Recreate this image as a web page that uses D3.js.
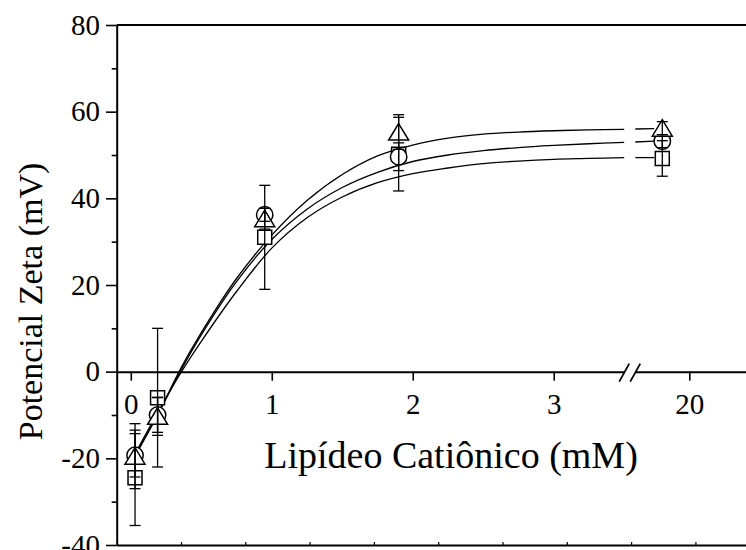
<!DOCTYPE html>
<html>
<head>
<meta charset="utf-8">
<script src="https://cdn.jsdelivr.net/npm/d3@7"></script>
<style>
  body { margin: 0; background: #fff; }
  text { font-family: "Liberation Serif", "Times New Roman", serif; fill: #000; }
</style>
</head>
<body>
<script>
// DATA
var concs = [0.03, 0.19, 0.95, 1.9, 18];

var triY   = [-19.5, -10.3, 35.3, 55.3, 56.2],
    triErr = [7.5, 4.4, 2.4, 4, 1.5];
var circY   = [-19.3, -10, 36.2, 49.6, 53.2],
    circErr = [5, 4, 1.5, 3.2, 1.5];
var sqY   = [-24.5, -6, 31, 50.2, 49.2],
    sqErr = [11, 16, 12, 8.5, 4.1];

// fitted curves
var fitX    = [0.03, 0.19, 0.35, 0.5, 0.75, 1, 1.25, 1.5, 1.75, 2, 2.25, 2.5, 2.75, 3, 3.25, 3.5];
var triFit  = [-19.5, -10, 0.5, 9, 21.5, 31.5, 39.5, 45.5, 49.8, 52.3, 53.9, 54.8, 55.3, 55.6, 55.8, 55.9];
var circFit = [-19.3, -10, 0, 8.5, 20.8, 30.5, 37.5, 42.5, 46, 48.5, 50, 51, 51.7, 52.2, 52.6, 52.9];
var sqFit   = [-19, -9.5, -0.5, 7, 18.5, 28.5, 35.5, 40.3, 43.6, 45.7, 47, 48, 48.6, 49, 49.2, 49.4];
var tailX    = [16, 17.4];
var triTail  = [56, 56.1];
var circTail = [53, 53.2];
var sqTail   = [49.4, 49.4];

var yMajor = [-40, -20, 0, 20, 40, 60, 80],
    yMinor = [-30, -10, 10, 30, 50, 70],
    xTicksLeft = [0, 1, 2, 3],
    xTicksRight = [20],
    frameTicks = d3.range(0, 11);

var w = 746, h = 550;

var svg = d3.select('body').append('svg')
  .attr('width', w)
  .attr('height', h);

// plain labels with a hyphen for the minus sign, like the original
var plain = function(d) { return String(d); };

// SCALES (broken x axis: two pieces)
var xLeft = d3.scaleLinear().domain([-0.1, 3.5]).range([116.7, 624.2]);
var xRight = d3.scaleLinear().domain([16, 24.2]).range([635.3, 746]);
var y = d3.scaleLinear().domain([-40, 80]).range([545, 25]);
var xFrame = d3.scaleLinear().domain([0, 10]).range([116.7, 759.7]);

function xpos(v) { return v > 10 ? xRight(v) : xLeft(v); }

// FRAME: top and bottom lines
svg.append('line')
  .attr('x1', xLeft(-0.1)).attr('x2', w)
  .attr('y1', y(80)).attr('y2', y(80))
  .attr('stroke', '#000').attr('stroke-width', 2);

var bottomAxis = svg.append('g')
  .attr('class', 'axis frame')
  .attr('transform', translation(0, y(-40)))
  .call(d3.axisTop(xFrame).tickValues(frameTicks).tickSize(3).tickSizeOuter(0).tickFormat(''));
bottomAxis.select('.domain').attr('stroke-width', 2);
bottomAxis.selectAll('.tick line').attr('stroke-width', 1.2);

// Y AXIS
var yAxis = svg.append('g')
  .attr('class', 'axis y')
  .attr('transform', translation(xLeft(-0.1), 0))
  .call(d3.axisLeft(y).tickValues(yMajor).tickFormat(plain)
    .tickSize(10.7).tickSizeOuter(0).tickPadding(6));
yAxis.select('.domain').attr('stroke-width', 2);
yAxis.selectAll('.tick line').attr('stroke-width', 1.6);
yAxis.selectAll('text').style('font-size', '29px');

svg.append('g')
  .attr('class', 'axis y minor')
  .attr('transform', translation(xLeft(-0.1), 0))
  .call(d3.axisLeft(y).tickValues(yMinor).tickSize(5).tickSizeOuter(0).tickFormat(''))
  .call(function(g) { g.select('.domain').remove(); })
  .selectAll('.tick line').attr('stroke-width', 1.6);

// X AXIS at y = 0
var xAxisL = svg.append('g')
  .attr('class', 'axis x left')
  .attr('transform', translation(0, y(0)))
  .call(d3.axisBottom(xLeft).tickValues(xTicksLeft).tickFormat(plain)
    .tickSize(9).tickSizeOuter(0).tickPadding(13));
var xAxisR = svg.append('g')
  .attr('class', 'axis x right')
  .attr('transform', translation(0, y(0)))
  .call(d3.axisBottom(xRight).tickValues(xTicksRight).tickFormat(plain)
    .tickSize(9).tickSizeOuter(0).tickPadding(13));
[xAxisL, xAxisR].forEach(function(g) {
  g.select('.domain').attr('stroke-width', 2);
  g.selectAll('.tick line').attr('stroke-width', 1.6);
  g.selectAll('text').style('font-size', '29px');
});

// break marks
var breakX = (xLeft.range()[1] + xRight.range()[0]) / 2;
[-5.5, 5.5].forEach(function(dx) {
  svg.append('line')
    .attr('x1', breakX + dx - 5).attr('y1', y(0) + 10)
    .attr('x2', breakX + dx + 5).attr('y2', y(0) - 8)
    .attr('stroke', '#000').attr('stroke-width', 1.8);
});

// AXIS LABELS
svg.append('text')
  .attr('x', 451).attr('y', 468)
  .style('text-anchor', 'middle')
  .style('font-size', '38px')
  .text('Lipídeo Catiônico (mM)');

svg.append('text')
  .attr('transform', translation(42, 301.5) + 'rotate(-90)')
  .style('text-anchor', 'middle')
  .style('font-size', '34px')
  .text('Potencial Zeta (mV)');

// FIT CURVES
var line = d3.line()
  .x(function(d) { return xpos(d[0]); })
  .y(function(d) { return y(d[1]); })
  .curve(d3.curveCatmullRom);

[triFit, circFit, sqFit].forEach(function(fit) {
  svg.append('path')
    .datum(d3.zip(fitX, fit))
    .attr('d', line)
    .attr('fill', 'none').attr('stroke', '#000').attr('stroke-width', 1.3);
});
[triTail, circTail, sqTail].forEach(function(t) {
  svg.append('path')
    .datum(d3.zip(tailX, t))
    .attr('d', line)
    .attr('fill', 'none').attr('stroke', '#000').attr('stroke-width', 1.3);
});

// SERIES
var series = [
  {name: 'square',   ys: sqY,   errs: sqErr},
  {name: 'circle',   ys: circY, errs: circErr},
  {name: 'triangle', ys: triY,  errs: triErr}
];

function markerPath(kind) {
  if (kind === 'square') return 'M-7,-7H7V7H-7Z';
  if (kind === 'circle') return d3.symbol(d3.symbolCircle, Math.PI * 8.2 * 8.2)();
  return 'M0,-8.5L10,8L-10,8Z';
}

series.forEach(function(s) {
  var pts = concs.map(function(c, i) { return {x: c, y: s.ys[i], e: s.errs[i]}; });
  var g = svg.append('g').attr('class', 'series ' + s.name);

  g.selectAll('path.marker')
    .data(pts)
    .enter().append('path')
      .attr('class', 'marker')
      .attr('transform', function(d) { return translation(xpos(d.x), y(d.y)); })
      .attr('d', markerPath(s.name))
      .attr('fill', '#fff')
      .attr('stroke', '#000')
      .attr('stroke-width', 1.5);
});

series.forEach(function(s) {
  var pts = concs.map(function(c, i) { return {x: c, y: s.ys[i], e: s.errs[i]}; });
  var g = svg.append('g').attr('class', 'err ' + s.name);
  var bars = g.selectAll('g').data(pts).enter().append('g');
  bars.append('line')
    .attr('x1', function(d) { return xpos(d.x); })
    .attr('x2', function(d) { return xpos(d.x); })
    .attr('y1', function(d) { return y(d.y + d.e); })
    .attr('y2', function(d) { return y(d.y - d.e); });
  [1, -1].forEach(function(sign) {
    bars.append('line')
      .attr('x1', function(d) { return xpos(d.x) - 5.5; })
      .attr('x2', function(d) { return xpos(d.x) + 5.5; })
      .attr('y1', function(d) { return y(d.y + sign * d.e); })
      .attr('y2', function(d) { return y(d.y + sign * d.e); });
  });
  bars.selectAll('line').attr('stroke', '#000').attr('stroke-width', 1.3);
});

function translation(x, y) {
  return 'translate(' + x + ',' + y + ')';
}
</script>
</body>
</html>
